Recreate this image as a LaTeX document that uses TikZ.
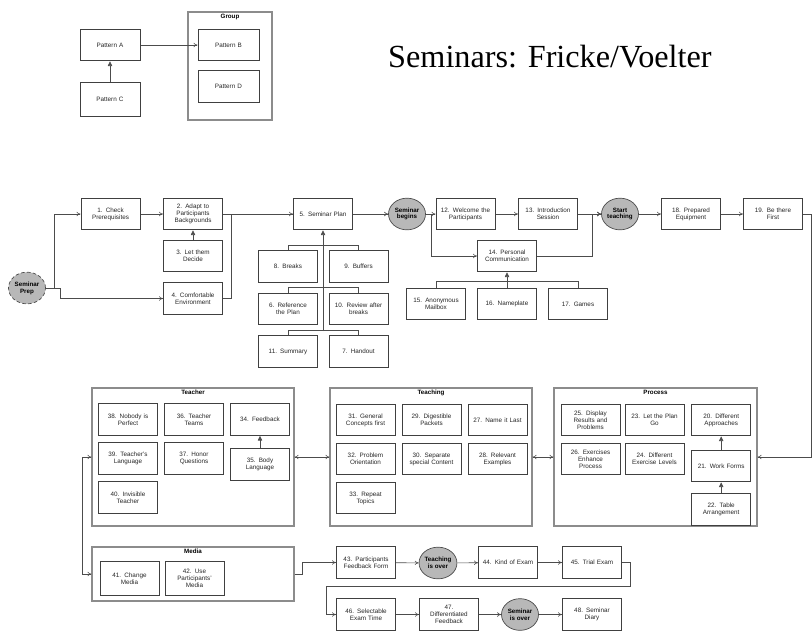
\documentclass[tikz,border=0pt]{standalone}
\usepackage{fontspec}
\setmainfont{Liberation Serif}
\setsansfont{Liberation Sans}
\usetikzlibrary{positioning, arrows.meta, shapes.geometric}
\tikzset{
  pbox/.style={draw=black!75, line width=0.85pt, align=center, text width=1.68cm,
               font=\sffamily\fontsize{5.4}{6}\selectfont, text=black!85,
               minimum width=1.77cm, minimum height=0.95cm, inner sep=0.5pt},
  evt/.style={ellipse, draw=black!70, fill=black!28, line width=0.6pt, align=center,
              font=\sffamily\bfseries\fontsize{5.3}{5.8}\selectfont,
              minimum width=1.11cm, minimum height=0.95cm, inner sep=0pt},
  grp/.style={draw=black!45, line width=0.9pt, inner sep=0pt},
  gtl/.style={font=\sffamily\bfseries\fontsize{5.3}{5.8}\selectfont, anchor=north, inner sep=2pt},
  ln/.style={draw=black!70, line width=0.5pt},
  arr/.style={ln, -{To[length=1.2mm, width=1.3mm]}},
  uarr/.style={ln, -{Triangle[length=1.4mm, width=1.3mm]}},
  darr/.style={ln, {To[length=1.2mm, width=1.3mm]}-{To[length=1.2mm, width=1.3mm]}},
}
\begin{document}
\begin{tikzpicture}[x=0.03cm, y=-0.03cm, node distance=0.19cm and 0.18cm]
\useasboundingbox (0,0) rectangle (812,631);

% legend
\node[pbox, minimum width=1.8cm] (pa) at (110,45) {Pattern A};
\node[pbox, minimum width=1.8cm, minimum height=1.02cm] (pc) at (110,99) {Pattern C};
\node[grp, minimum width=2.52cm, minimum height=3.24cm, label={[gtl]north:Group}] (gr) at (230,66) {};
\node[pbox, minimum width=1.83cm] (pb) at (228.5,45) {Pattern B};
\node[pbox, minimum width=1.83cm] (pd) at (228.5,86.5) {Pattern D};
\draw[arr] (pa) -- (pb);
\draw[uarr] (pc) -- (pa);

\node[font=\fontsize{27.5}{30}\selectfont, anchor=west, inner sep=0pt] (ttl) at (388,57) {Seminars: Fricke/Voelter};

% preparation
\node[evt, densely dashed] (sp) at (27,288) {Seminar\\Prep};
\node[pbox] (b1) at (110.5,214) {1. Check\\Prerequisites};
\node[pbox] (b2) at (193,214) {2. Adapt to\\Participants\\Backgrounds};
\node[pbox] (b3) at (193,256) {3. Let them\\Decide};
\node[pbox] (b4) at (193,298.5) {4. Comfortable\\Environment};
\node[pbox] (b5) at (323,214) {5. Seminar Plan};
\node[pbox] (b8) at (288,266.5) {8. Breaks};
\node[pbox] (b9) at (358.5,266.5) {9. Buffers};
\node[pbox] (b6) at (288,309) {6. Reference\\the Plan};
\node[pbox] (b10) at (358.5,309) {10. Review after\\breaks};
\node[pbox] (b11) at (288,351.5) {11. Summary};
\node[pbox] (b7) at (358.5,351.5) {7. Handout};
\coordinate (trk) at (323,331);

\draw[arr] (sp.east) -- ++(8,0) |- (b1.west);
\draw[arr] (sp.east) -- ++(14,0) |- (b4.west);
\draw[arr] (b1) -- (b2);
\draw[uarr] (b3) -- (b2);
\draw[arr] (b2) -- (b5);
\draw[ln] (b4.east) -- ++(8,0) |- (b5.west);
\draw[ln] (b8.north) -- ++(0,-5) -| (b9.north);
\draw[ln] (b6.north) -- ++(0,-5) -| (b10.north);
\draw[ln] (b11.north) -- ++(0,-5) -| (b7.north);
\draw[uarr] (trk) -- (b5.south);

% seminar begins
\node[evt] (sb) at (407,214) {Seminar\\begins};
\node[pbox] (b12) at (465.5,214) {12. Welcome the\\Participants};
\node[pbox] (b13) at (548,214) {13. Introduction\\Session};
\node[pbox] (b14) at (507,256) {14. Personal\\Communication};
\node[pbox] (b15) at (436,304) {15. Anonymous\\Mailbox};
\node[pbox] (b16) at (507,304) {16. Nameplate};
\node[pbox] (b17) at (578,304) {17. Games};
\node[evt] (st) at (620,214) {Start\\teaching};
\node[pbox] (b18) at (691,214) {18. Prepared\\Equipment};
\node[pbox] (b19) at (773,214) {19. Be there\\First};

\draw[arr] (b5) -- (sb);
\draw[arr] (sb) -- (b12);
\draw[arr] (sb.east) -- ++(5,0) |- (b14.west);
\draw[arr] (b12) -- (b13);
\draw[arr] (b13) -- (st);
\draw[arr] (b14.east) -- ++(55,0) |- (st.west);
\draw[ln] (b15.north) -- ++(0,-6) -| (b17.north);
\draw[uarr] (b16) -- (b14);
\draw[arr] (st) -- (b18);
\draw[arr] (b18) -- (b19);

% teacher
\node[grp, minimum width=6.06cm, minimum height=4.14cm, label={[gtl]north:Teacher}] (tch) at (193,457) {};
\node[pbox] (b38) at (128,419.5) {38. Nobody is\\Perfect};
\node[pbox, right=of b38] (b36) {36. Teacher\\Teams};
\node[pbox, right=of b36] (b34) {34. Feedback};
\node[pbox, below=of b38] (b39) {39. Teacher's\\Language};
\node[pbox, below=of b36] (b37) {37. Honor\\Questions};
\node[pbox, below=0.36cm of b34] (b35) {35. Body\\Language};
\node[pbox, below=of b39] (b40) {40. Invisible\\Teacher};
\draw[uarr] (b35) -- (b34);

% teaching
\node[grp, minimum width=6.06cm, minimum height=4.14cm, label={[gtl]north:Teaching}] (tng) at (431,457) {};
\node[pbox] (b31) at (365.5,420) {31. General\\Concepts first};
\node[pbox, right=of b31] (b29) {29. Digestible\\Packets};
\node[pbox, right=of b29] (b27) {27. Name it Last};
\node[pbox, below=of b31] (b32) {32. Problem\\Orientation};
\node[pbox, below=of b29] (b30) {30. Separate\\special Content};
\node[pbox, below=of b27] (b28) {28. Relevant\\Examples};
\node[pbox, below=of b32] (b33) {33. Repeat\\Topics};

% process
\node[grp, minimum width=6.09cm, minimum height=4.14cm, label={[gtl]north:Process}] (prc) at (655.5,457) {};
\node[pbox] (b25) at (590.5,420) {25. Display\\Results and\\Problems};
\node[pbox, right=0.12cm of b25] (b23) {23. Let the Plan\\Go};
\node[pbox, right=0.2cm of b23] (b20) {20. Different\\Approaches};
\node[pbox, below=of b25] (b26) {26. Exercises\\Enhance\\Process};
\node[pbox, below=of b23] (b24) {24. Different\\Exercise Levels};
\node[pbox, below=0.4cm of b20] (b21) {21. Work Forms};
\node[pbox, below=0.33cm of b21] (b22) {22. Table\\Arrangement};
\draw[uarr] (b21) -- (b20);
\draw[uarr] (b22) -- (b21);

\draw[arr] (b19.east) -- ++(8,0) |- (prc.east);
\draw[darr] (tng.east) -- (prc.west);
\draw[darr] (tch.east) -- (tng.west);

% media
\node[grp, minimum width=6.06cm, minimum height=1.62cm, label={[gtl]north:Media}] (med) at (193,574) {};
\node[pbox, minimum height=1cm] (b41) at (129.5,578.5) {41. Change\\Media};
\node[pbox, minimum height=1cm, right=0.15cm of b41] (b42) {42. Use\\Participants'\\Media};
\draw[darr] (tch.west) -- ++(-9,0) |- (med.west);

% end of seminar
\node[pbox] (b43) at (366,562.5) {43. Participants\\Feedback Form};
\node[evt] (to) at (438,563) {Teaching\\is over};
\node[pbox] (b44) at (508,562.5) {44. Kind of Exam};
\node[pbox] (b45) at (592,562.5) {45. Trial Exam};
\node[pbox] (b46) at (366,614.5) {46. Selectable\\Exam Time};
\node[pbox] (b47) at (449,614.5) {47.\\Differentiated\\Feedback};
\node[evt] (so) at (520,614.5) {Seminar\\is over};
\node[pbox] (b48) at (592,614.5) {48. Seminar\\Diary};
\coordinate (w1) at (326,586);

\draw[arr] (med.east) -- ++(8,0) |- (b43.west);
\draw[arr] (b43) -- (to);
\draw[arr] (to) -- (b44);
\draw[arr] (b44) -- (b45);
\draw[arr] (b45.east) -- ++(8,0) |- (w1) |- (b46.west);
\draw[arr] (b46) -- (b47);
\draw[arr] (b47) -- (so);
\draw[arr] (so) -- (b48);
\end{tikzpicture}
\end{document}
